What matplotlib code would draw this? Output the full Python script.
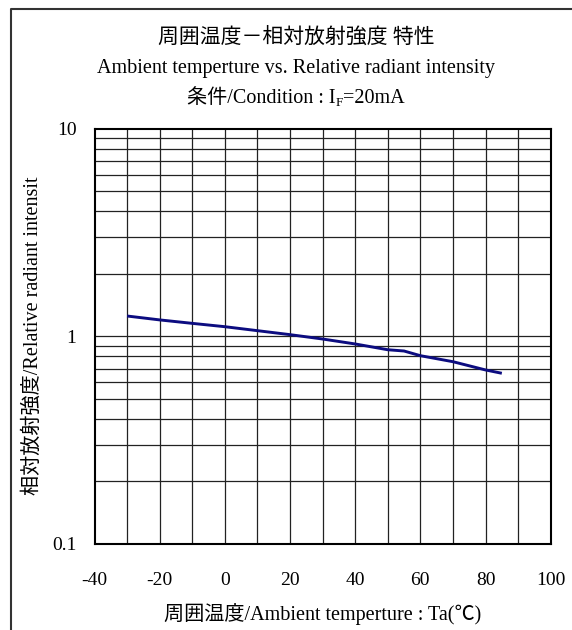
import numpy as np
import matplotlib
matplotlib.use('Agg')
import matplotlib.pyplot as plt
from matplotlib.lines import Line2D
from matplotlib.ticker import FixedLocator, NullFormatter

plt.rcParams['font.family'] = ['Liberation Serif', 'Noto Sans CJK JP']

# relative radiant intensity vs ambient temperature (IF = 20mA)
temp = [-30, -20, -10, 0, 10, 20, 30, 40, 50, 55, 60, 70, 80, 85]
intensity = [1.253, 1.20, 1.155, 1.113, 1.065, 1.019, 0.971, 0.919, 0.862, 0.850, 0.807, 0.755, 0.689, 0.664]

x_ticks = [-40, -20, 0, 20, 40, 60, 80, 100]
y_ticks = [0.1, 1, 10]
y_labels = ['0.1', '1', '10']

W, H = 572, 630
fig = plt.figure(figsize=(W / 100, H / 100), dpi=100)
fig.patch.set_facecolor('white')

# page frame (top and left edges only, the rest runs off the sheet)
fig.add_artist(Line2D([11 / W, 11 / W, 1.0], [0.0, 1 - 9 / H, 1 - 9 / H],
                      transform=fig.transFigure, color='#333333', lw=1.5))

ax = fig.add_axes([94.5 / W, 1 - 544 / H, (550.7 - 94.5) / W, (544 - 128.7) / H])
ax.set_xlim(-40, 100)
ax.set_yscale('log')
ax.set_ylim(0.1, 10)

# grid: every 10 degC, and 1..9 per decade
for xv in range(-30, 100, 10):
    ax.axvline(xv, color='#222222', lw=0.9, zorder=1)
for dec in [0.1, 1]:
    for m in range(2, 10):
        ax.axhline(dec * m, color='#222222', lw=0.9, zorder=1)
ax.axhline(1, color='#222222', lw=0.9, zorder=1)

ax.plot(temp, intensity, color='#0c0c80', lw=2.1, zorder=3, solid_capstyle='butt')

ax.xaxis.set_major_locator(FixedLocator(x_ticks))
ax.set_xticklabels([str(v) for v in x_ticks])
ax.yaxis.set_major_locator(FixedLocator(y_ticks))
ax.yaxis.set_minor_locator(FixedLocator([]))
ax.yaxis.set_minor_formatter(NullFormatter())
ax.set_yticklabels(y_labels)
ax.tick_params(axis='both', which='both', length=0, labelsize=14)
ax.tick_params(axis='x', pad=20)
ax.tick_params(axis='y', pad=13)
for s in ax.spines.values():
    s.set_linewidth(1.5)
    s.set_color('black')
    s.set_zorder(4)

# titles
fig.text(296 / W, 1 - 38 / H, '周囲温度－相対放射強度 特性', ha='center', va='center', fontsize=15)
fig.text(296 / W, 1 - 68 / H, 'Ambient temperture vs. Relative radiant intensity',
         ha='center', va='center', fontsize=14.5)

# condition line with a subscript F, built from three pieces
renderer = fig.canvas.get_renderer()
y3 = 1 - 97 / H
p1 = fig.text(0, y3, '条件/Condition : I', ha='left', va='baseline', fontsize=14.5)
p2 = fig.text(0, y3, 'F', ha='left', va='baseline', fontsize=9.5)
p3 = fig.text(0, y3, '=20mA', ha='left', va='baseline', fontsize=14.5)
w1 = p1.get_window_extent(renderer).width
w2 = p2.get_window_extent(renderer).width
w3 = p3.get_window_extent(renderer).width
x0 = 296 - (w1 + w2 + w3) / 2
base = 1 - 103 / H
p1.set_position((x0 / W, base))
p2.set_position(((x0 + w1) / W, base - 3 / H))
p3.set_position(((x0 + w1 + w2) / W, base))

fig.text(322.6 / W, 1 - 614 / H, '周囲温度/Ambient temperture : Ta(℃)', ha='center', va='center', fontsize=14.5)
fig.text(33 / W, 1 - 336 / H, '相対放射強度/Relative radiant intensit', ha='center', va='center',
         rotation=90, fontsize=14.5)

fig.savefig('out.png', dpi=100)
